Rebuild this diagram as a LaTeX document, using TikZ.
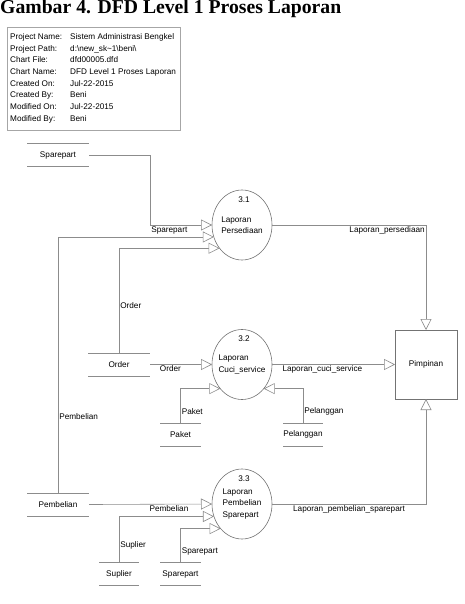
\documentclass[tikz,border=0pt]{standalone}
\usepackage{fontspec}
\setmainfont{Liberation Sans}
\newfontfamily\titlefont{Liberation Serif}
\usetikzlibrary{arrows.meta,shapes.geometric}
\newcommand\lbfont{\fontsize{8.2}{9.8}\selectfont}
\begin{document}
\begin{tikzpicture}[
    x=1pt, y=-1pt,
    proc/.style={ellipse, draw=black!55, line width=0.6pt, minimum width=60pt, minimum height=70pt, inner sep=0pt, outer sep=0pt},
    entity/.style={rectangle, draw=black!55, line width=0.6pt, minimum width=62pt, minimum height=69pt, inner sep=0pt, outer sep=0pt, font=\lbfont},
    storeline/.style={draw=black!45, line width=0.6pt},
    store/.style={minimum width=#1, minimum height=23pt, inner sep=0pt, outer sep=0pt, font=\lbfont,
        append after command={(\tikzlastnode.north west) edge[storeline] (\tikzlastnode.north east)
                              (\tikzlastnode.south west) edge[storeline] (\tikzlastnode.south east)}},
    store/.default=62pt,
    flow/.style={draw=black!45, line width=0.6pt, -{Triangle[length=11pt, width=11pt, fill=white]}},
    lbl/.style={font=\lbfont, inner sep=1pt},
    ptext/.style={font=\fontsize{8.2}{11.5}\selectfont, align=left, inner sep=0pt},
    infobox/.style={rectangle, draw=black!35, line width=0.6pt, minimum width=173pt, minimum height=103pt, inner sep=0pt},
    ]
    \useasboundingbox (0,0) rectangle (464,604);

    % Title
    \node[anchor=base west, inner sep=0pt, font=\titlefont\fontsize{19.7}{22}\selectfont\bfseries] (title) at (0,14) {Gambar 4. DFD Level 1 Proses Laporan};

    % Chart info
    \node[infobox, anchor=north west] (info) at (7,27) {};
    \node[anchor=north west, inner sep=0pt, font=\fontsize{8.2}{11.7}\selectfont] (infotext) at (10,31) {%
        \begin{tabular}{@{}p{60pt}@{}l@{}}
        Project Name: & Sistem Administrasi Bengkel\\
        Project Path: & d:\textbackslash new\_sk\textasciitilde 1\textbackslash beni\textbackslash\\
        Chart File: & dfd00005.dfd\\
        Chart Name: & DFD Level 1 Proses Laporan\\
        Created On: & Jul-22-2015\\
        Created By: & Beni\\
        Modified On: & Jul-22-2015\\
        Modified By: & Beni
        \end{tabular}};

    % Processes
    \node[proc] (c31) at (242,225) {};
    \node[proc] (c32) at (242,364.5) {};
    \node[proc] (c33) at (242,504) {};
    \node[lbl] (n31) at ([xshift=2pt, yshift=-9.5pt]c31.north) {3.1};
    \node[lbl] (n32) at ([xshift=2pt, yshift=-9.5pt]c32.north) {3.2};
    \node[lbl] (n33) at ([xshift=2pt, yshift=-9.5pt]c33.north) {3.3};
    \node[ptext] (t31) at (c31) {Laporan\\Persediaan};
    \node[ptext] (t32) at (c32) {Laporan\\Cuci\_service};
    \node[ptext] (t33) at (c33) {Laporan\\Pembelian\\Sparepart};

    % External entity
    \node[entity] (pim) at (426,364.5) {Pimpinan};

    % Data stores
    \node[store] (sp1) at (58,155) {Sparepart};
    \node[store] (ord) at (119,364.5) {Order};
    \node[store=41pt] (pak) at (180.5,434.5) {Paket};
    \node[store=40pt] (pel) at (303,434.5) {Pelanggan};
    \node[store] (pem) at (58,504.5) {Pembelian};
    \node[store=40pt] (sup) at (119,574) {Suplier};
    \node[store=41pt] (sp2) at (180.5,574) {Sparepart};

    % Flows into 3.1
    \draw[flow] (sp1.east) -- ++(61,0) |- node[lbl, below right]{Sparepart} (c31.west);
    \draw[flow] (pem.north) |- node[lbl, right, pos=0.15]{Pembelian} (c31.203);
    \draw[flow] (ord.north) |- node[lbl, right, pos=0.224]{Order} (c31.226);
    \draw[flow] (c31.east) -| node[lbl, below left]{Laporan\_persediaan} (pim.north);

    % Flows into 3.2
    \draw[flow] (ord.east) -- node[lbl, below, pos=0.33]{Order} (c32.west);
    \draw[flow] (c32.east) -- node[lbl, below, pos=0.41]{Laporan\_cuci\_service} (pim.west);
    \draw[flow] (pak.north) |- node[lbl, right, pos=0.17]{Paket} (c32.228);
    \draw[flow] (pel.north) |- node[lbl, right, pos=0.17]{Pelanggan} (c32.312);

    % Flows into 3.3
    \draw[flow] (pem.east) -- node[lbl, below, pos=0.65]{Pembelian} (c33.west);
    \draw[flow] (sup.north) |- node[lbl, right, pos=0.185]{Suplier} (c33.204);
    \draw[flow] (sp2.north) |- node[lbl, right, pos=0.16]{Sparepart} (c33.229);
    \draw[flow] (c33.east) -| node[lbl, below, pos=0.25]{Laporan\_pembelian\_sparepart} (pim.south);

\end{tikzpicture}
\end{document}
